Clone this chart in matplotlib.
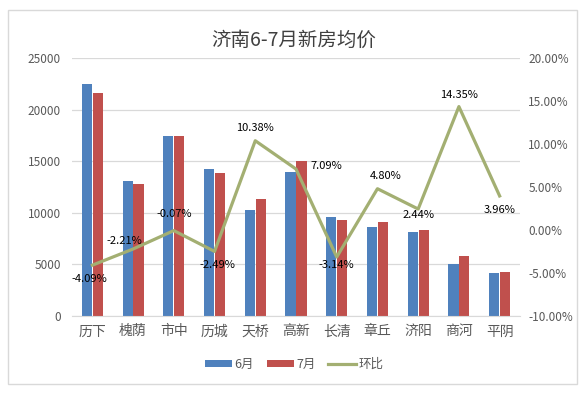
import matplotlib
matplotlib.use("Agg")
import matplotlib.pyplot as plt
from matplotlib.patches import Rectangle
from matplotlib.ticker import FuncFormatter

plt.rcParams['font.family'] = ['Noto Sans CJK SC', 'DejaVu Sans']

# données
districts = ['历下', '槐荫', '市中', '历城', '天桥', '高新', '长清', '章丘', '济阳', '商河', '平阴']
prix_juin = [22500, 13100, 17450, 14250, 10270, 14000, 9620, 8650, 8170, 5050, 4120]
prix_juillet = [21580, 12810, 17440, 13895, 11336, 14993, 9318, 9065, 8370, 5775, 4283]
variation = [-4.09, -2.21, -0.07, -2.49, 10.38, 7.09, -3.14, 4.80, 2.44, 14.35, 3.96]
# placement des étiquettes (dx, dy en points)
decalages = [(-2, -10), (-6, 6), (0, 12), (2, -10), (0, 9), (22, 2), (0, -6), (6, 9), (0, -4), (0, 8), (0, -10)]

bleu = '#4F81BD'
rouge = '#C0504D'
vert = '#A3AF72'
gris = '#595959'

fig = plt.figure(figsize=(5.88, 3.94), dpi=100)
fig.patches.append(Rectangle((8 / 588, 1 - 384 / 394), 569 / 588, 374 / 394,
                             transform=fig.transFigure, fill=False,
                             edgecolor='#D9D9D9', linewidth=1))

ax = fig.add_axes([72 / 588, 1 - 316 / 394, 448 / 588, 258 / 394])
ax2 = ax.twinx()

x = list(range(len(districts)))
w = 0.25
ax.bar([i - w / 2 - 0.01 for i in x], prix_juin, width=w, color=bleu, label='6月', zorder=2)
ax.bar([i + w / 2 + 0.01 for i in x], prix_juillet, width=w, color=rouge, label='7月', zorder=2)

ax.set_xlim(-0.5, len(districts) - 0.5)
ax.set_ylim(0, 25000)
ax.set_yticks(range(0, 25001, 5000))
ax.set_xticks(x)
ax.set_xticklabels(districts, fontsize=10, color=gris)
ax.tick_params(axis='y', labelsize=8.5, colors=gris, length=0, pad=8)
ax.tick_params(axis='x', length=0, pad=6)
ax.grid(axis='y', color='#D9D9D9', linewidth=0.9, zorder=0)
for s in ['top', 'left', 'right']:
    ax.spines[s].set_visible(False)
ax.spines['bottom'].set_color('#D9D9D9')

ax2.plot(x, variation, color=vert, linewidth=2.3, label='环比', zorder=3)
ax2.set_ylim(-10, 20)
ax2.set_yticks(range(-10, 21, 5))
ax2.yaxis.set_major_formatter(FuncFormatter(lambda v, p: f'{v:.2f}%'))
ax2.tick_params(axis='y', labelsize=8.5, colors=gris, length=0, pad=6)
for s in ['top', 'left', 'right', 'bottom']:
    ax2.spines[s].set_visible(False)

for i, v in enumerate(variation):
    dx, dy = decalages[i]
    ax2.annotate(f'{v:.2f}%', (i, v), xytext=(dx, dy), textcoords='offset points',
                 ha='center', va='center', fontsize=8, color='black')

fig.text(0.5, 1 - 40 / 394, '济南6-7月新房均价', ha='center', va='center',
         fontsize=14, color='#404040')

h1, l1 = ax.get_legend_handles_labels()
h2, l2 = ax2.get_legend_handles_labels()
fig.legend(h1 + h2, l1 + l2, loc='center', bbox_to_anchor=(0.5, 1 - 364 / 394),
           ncol=3, frameon=False, fontsize=9, labelcolor=gris,
           handlelength=2.2, handleheight=0.5, columnspacing=1.0, handletextpad=0.2)

plt.savefig("out.png", dpi=100)
plt.close()
